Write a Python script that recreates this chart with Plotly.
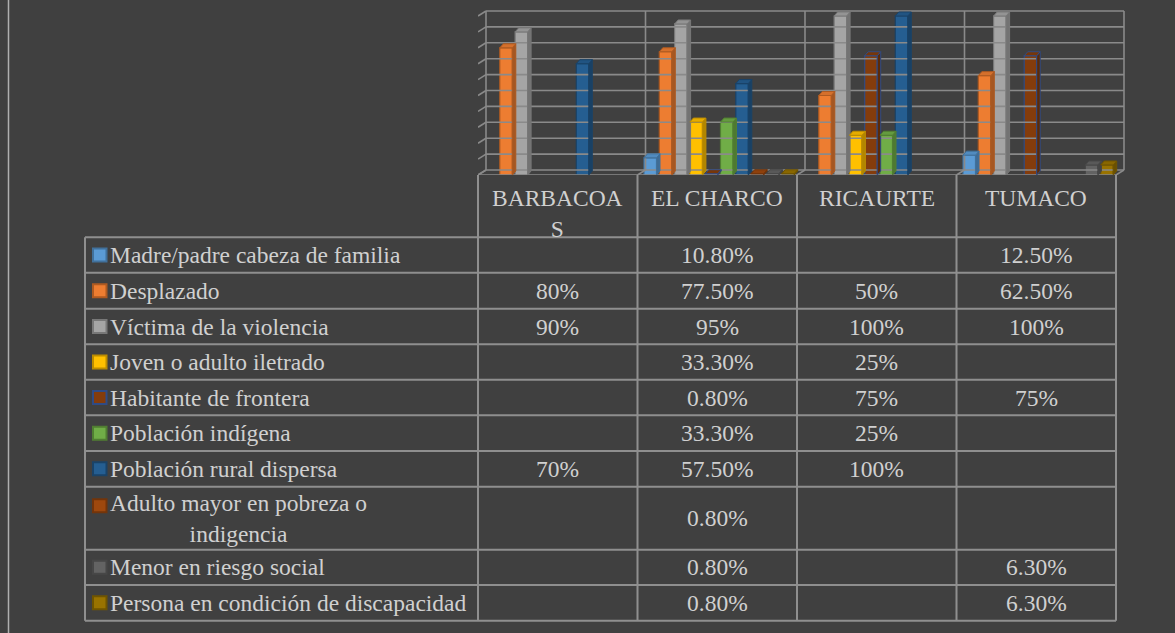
import plotly.graph_objects as go

# ---------------- data ----------------
categories = ["BARBACOAS", "EL CHARCO", "RICAURTE", "TUMACO"]
category_labels = ["BARBACOA<br>S", "EL CHARCO", "RICAURTE", "TUMACO"]

series_names = [
    "Madre/padre cabeza de familia",
    "Desplazado",
    "Víctima de la violencia",
    "Joven o adulto iletrado",
    "Habitante de frontera",
    "Población indígena",
    "Población rural dispersa",
    "Adulto mayor en pobreza o indigencia",
    "Menor en riesgo social",
    "Persona en condición de discapacidad",
]
series_labels = [
    "Madre/padre cabeza de familia",
    "Desplazado",
    "Víctima de la violencia",
    "Joven o adulto iletrado",
    "Habitante de frontera",
    "Población indígena",
    "Población rural dispersa",
    "Adulto mayor en pobreza o<br>indigencia",
    "Menor en riesgo social",
    "Persona en condición de discapacidad",
]

madre_padre = [None, 10.8, None, 12.5]
desplazado = [80, 77.5, 50, 62.5]
victima = [90, 95, 100, 100]
joven_iletrado = [None, 33.3, 25, None]
habitante_frontera = [None, 0.8, 75, 75]
poblacion_indigena = [None, 33.3, 25, None]
rural_dispersa = [70, 57.5, 100, None]
adulto_mayor = [None, 0.8, None, None]
menor_riesgo = [None, 0.8, None, 6.3]
discapacidad = [None, 0.8, None, 6.3]

values = [madre_padre, desplazado, victima, joven_iletrado, habitante_frontera,
          poblacion_indigena, rural_dispersa, adulto_mayor, menor_riesgo, discapacidad]

fill_colors = ["#5b9bd5", "#ed7d31", "#a5a5a5", "#ffc000", "#843c0c",
               "#70ad47", "#255e91", "#9e480e", "#636363", "#997300"]
edge_colors = ["#41719c", "#ae5a21", "#787878", "#bc8c00", "#2f4b85",
               "#507e32", "#1a4368", "#73340a", "#474747", "#6f5400"]

# ---------------- geometry (layout) ----------------
W, H = 1175, 633
BG = "#404040"
GRID = "#8a8a8a"
TXT = "#d0d0d0"
FONT = "Liberation Serif"
FS = 23.5

CAT_PX = 159.5          # width of one category at the front
X0_PX = 478             # left of the floor front edge
XR_PX = 1128            # right of plot area
Y0_PX = 175             # floor front edge (value 0)
YT_PX = 6               # top of plot area
PX_PER_PCT = 1.59

WALL_DX, WALL_DY = 8 / CAT_PX, 5 / PX_PER_PCT
BAR_DX, BAR_DY = 3.5 / CAT_PX, 4 / PX_PER_PCT
SLOT = 15.3 / CAT_PX
FACE = 12.5 / CAT_PX
FIRST = (6.5 + 6.25) / CAT_PX


def px(x):
    return x / W


def py(y):
    return 1 - y / H


def shade(hexc, f):
    r, g, b = int(hexc[1:3], 16), int(hexc[3:5], 16), int(hexc[5:7], 16)
    if f >= 0:
        r, g, b = [int(c + (255 - c) * f) for c in (r, g, b)]
    else:
        r, g, b = [int(c * (1 + f)) for c in (r, g, b)]
    return "#%02x%02x%02x" % (r, g, b)


def fmt(v):
    if v is None:
        return ""
    if float(v).is_integer():
        return "%d%%" % v
    return "%.2f%%" % v


fig = go.Figure()

# ---------------- walls / floor ----------------
ncat = len(categories)
gx, gy = [], []
for v in range(0, 101, 10):
    gx += [WALL_DX, ncat + WALL_DX, None]
    gy += [v + WALL_DY, v + WALL_DY, None]
    gx += [0, WALL_DX, None]
    gy += [v, v + WALL_DY, None]
for c in range(ncat + 1):
    gx += [c + WALL_DX, c + WALL_DX, None]
    gy += [WALL_DY, 100 + WALL_DY, None]
    gx += [c, c + WALL_DX, None]
    gy += [0, WALL_DY, None]
gx += [0, ncat, None]
gy += [0, 0, None]
fig.add_trace(go.Scatter(x=gx, y=gy, mode="lines", line=dict(color=GRID, width=1.6),
                         hoverinfo="skip", showlegend=False))

# ---------------- 3D bars ----------------
for s, vals in enumerate(values):
    xs = [c + FIRST + s * SLOT for c, v in enumerate(vals) if v is not None]
    ys = [v for v in vals if v is not None]
    if not xs:
        continue
    fig.add_trace(go.Bar(x=xs, y=ys, width=FACE, name=series_names[s],
                         marker=dict(color=fill_colors[s],
                                     line=dict(color=edge_colors[s], width=1.2)),
                         showlegend=False, hoverinfo="skip"))
    sx, sy, tx, ty = [], [], [], []
    for x, v in zip(xs, ys):
        x0, x1 = x - FACE / 2, x + FACE / 2
        sx += [x1, x1 + BAR_DX, x1 + BAR_DX, x1, x1, None]
        sy += [0, BAR_DY, v + BAR_DY, v, 0, None]
        tx += [x0, x1, x1 + BAR_DX, x0 + BAR_DX, x0, None]
        ty += [v, v, v + BAR_DY, v + BAR_DY, v, None]
    fig.add_trace(go.Scatter(x=sx, y=sy, mode="lines", fill="toself",
                             fillcolor=shade(fill_colors[s], -0.3),
                             line=dict(color=edge_colors[s], width=1),
                             hoverinfo="skip", showlegend=False))
    fig.add_trace(go.Scatter(x=tx, y=ty, mode="lines", fill="toself",
                             fillcolor=shade(fill_colors[s], -0.1),
                             line=dict(color=edge_colors[s], width=1),
                             hoverinfo="skip", showlegend=False))

# ---------------- data table ----------------
shapes = []
annotations = []
LINE = dict(color="#8f8f8f", width=2)
TAB_L = 85
col_x = [X0_PX + CAT_PX * i for i in range(ncat + 1)]
row_y = [237.3, 272.7, 308.7, 344.3, 379.7, 415.3, 451.0, 486.7, 549.7, 585.0, 620.7]

for y in row_y:
    shapes.append(dict(type="line", xref="paper", yref="paper", x0=px(TAB_L), x1=px(col_x[-1]),
                       y0=py(y), y1=py(y), line=LINE))
shapes.append(dict(type="line", xref="paper", yref="paper", x0=px(TAB_L), x1=px(TAB_L),
                   y0=py(row_y[0]), y1=py(row_y[-1]), line=LINE))
for x in col_x:
    shapes.append(dict(type="line", xref="paper", yref="paper", x0=px(x), x1=px(x),
                       y0=py(Y0_PX), y1=py(row_y[-1]), line=LINE))
# outer left frame line
shapes.append(dict(type="line", xref="paper", yref="paper", x0=px(8.5), x1=px(8.5),
                   y0=0, y1=1, line=dict(color="#b0b0b0", width=1.5)))

# header (category names)
for i, lab in enumerate(category_labels):
    annotations.append(dict(xref="paper", yref="paper", x=px(col_x[i] + CAT_PX / 2), y=py(183),
                            xanchor="center", yanchor="top", align="center", showarrow=False,
                            text=lab, font=dict(family=FONT, size=FS, color=TXT)))

# rows
for s in range(len(series_names)):
    top, bot = row_y[s], row_y[s + 1]
    cy = (top + bot) / 2
    two_lines = "<br>" in series_labels[s]
    ky = cy - 12.5 if two_lines else cy
    shapes.append(dict(type="rect", xref="paper", yref="paper",
                       x0=px(93), x1=px(106.5), y0=py(ky - 6.5), y1=py(ky + 6.5),
                       fillcolor=fill_colors[s], line=dict(color=edge_colors[s], width=2)))
    annotations.append(dict(xref="paper", yref="paper", x=px(108), y=py(cy),
                            xanchor="left", yanchor="middle", align="center", showarrow=False,
                            text=series_labels[s], font=dict(family=FONT, size=FS, color=TXT)))
    for c in range(ncat):
        t = fmt(values[s][c])
        if t:
            annotations.append(dict(xref="paper", yref="paper", x=px(col_x[c] + CAT_PX / 2),
                                    y=py(cy), xanchor="center", yanchor="middle", showarrow=False,
                                    text=t, font=dict(family=FONT, size=FS, color=TXT)))

fig.update_layout(
    width=W, height=H,
    margin=dict(l=0, r=0, t=0, b=0),
    paper_bgcolor=BG, plot_bgcolor="rgba(0,0,0,0)",
    barmode="overlay",
    xaxis=dict(domain=[px(X0_PX), px(XR_PX)], range=[0, (XR_PX - X0_PX) / CAT_PX],
               visible=False, fixedrange=True),
    yaxis=dict(domain=[py(Y0_PX), py(YT_PX)], range=[0, (Y0_PX - YT_PX) / PX_PER_PCT],
               visible=False, fixedrange=True),
    shapes=shapes,
    annotations=annotations,
    showlegend=False,
)

fig.write_html("out.html", config={"displayModeBar": False},
               post_script="document.body.style.margin='0';")
